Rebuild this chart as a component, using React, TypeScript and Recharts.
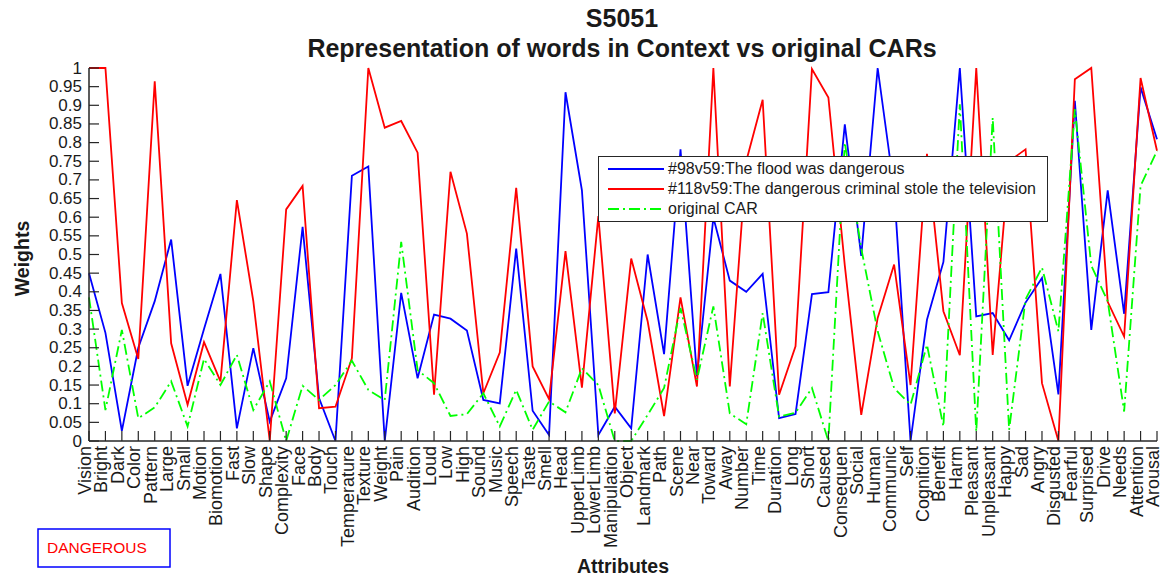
import React from 'react';
import { LineChart, Line, XAxis, YAxis, Legend } from 'recharts';

const attributes = [
  'Vision', 'Bright', 'Dark', 'Color', 'Pattern', 'Large', 'Small', 'Motion', 'Biomotion', 'Fast',
  'Slow', 'Shape', 'Complexity', 'Face', 'Body', 'Touch', 'Temperature', 'Texture', 'Weight', 'Pain',
  'Audition', 'Loud', 'Low', 'High', 'Sound', 'Music', 'Speech', 'Taste', 'Smell', 'Head',
  'UpperLimb', 'LowerLimb', 'Manipulation', 'Object', 'Landmark', 'Path', 'Scene', 'Near', 'Toward', 'Away',
  'Number', 'Time', 'Duration', 'Long', 'Short', 'Caused', 'Consequen', 'Social', 'Human', 'Communic',
  'Self', 'Cognition', 'Benefit', 'Harm', 'Pleasant', 'Unpleasant', 'Happy', 'Sad', 'Angry', 'Disgusted',
  'Fearful', 'Surprised', 'Drive', 'Needs', 'Attention', 'Arousal',
];

// #98v59: The flood was dangerous
const floodWeights = [
  0.45, 0.29, 0.027, 0.25, 0.375, 0.54, 0.148, 0.3, 0.448, 0.034,
  0.249, 0.052, 0.168, 0.574, 0.115, 0, 0.711, 0.736, 0, 0.397,
  0.168, 0.339, 0.328, 0.296, 0.11, 0.101, 0.516, 0.081, 0.016, 0.935,
  0.672, 0.016, 0.092, 0.034, 0.5, 0.233, 0.782, 0.173, 0.599, 0.43,
  0.4, 0.448, 0.061, 0.072, 0.394, 0.399, 0.849, 0.496, 1, 0.675,
  0, 0.325, 0.48, 1, 0.334, 0.343, 0.27, 0.371, 0.437, 0.125,
  0.912, 0.298, 0.672, 0.341, 0.948, 0.809,
];

// #118v59: The dangerous criminal stole the television
const criminalWeights = [
  1, 1, 0.37, 0.22, 0.964, 0.262, 0.097, 0.265, 0.16, 0.646,
  0.375, 0, 0.621, 0.684, 0.088, 0.092, 0.222, 1, 0.84, 0.858,
  0.773, 0.124, 0.722, 0.556, 0.128, 0.237, 0.679, 0.2, 0.112, 0.509,
  0.143, 0.603, 0.074, 0.489, 0.321, 0.067, 0.385, 0.146, 1, 0.146,
  0.75, 0.915, 0.124, 0.254, 0.997, 0.921, 0.47, 0.07, 0.33, 0.473,
  0.15, 0.77, 0.348, 0.23, 1, 0.231, 0.75, 0.782, 0.155, 0,
  0.97, 1, 0.373, 0.28, 0.973, 0.778,
];

// original CAR
const carWeights = [
  0.385, 0.083, 0.298, 0.061, 0.09, 0.16, 0.039, 0.22, 0.15, 0.231,
  0.083, 0.16, 0, 0.148, 0.11, 0.15, 0.215, 0.137, 0.11, 0.534,
  0.19, 0.155, 0.067, 0.072, 0.128, 0.039, 0.137, 0.03, 0.106, 0.077,
  0.195, 0.15, 0, 0, 0.07, 0.142, 0.357, 0.164, 0.361, 0.074,
  0.045, 0.343, 0.065, 0.076, 0.142, 0, 0.8, 0.516, 0.294, 0.142,
  0.097, 0.258, 0.039, 0.903, 0.025, 0.867, 0.03, 0.38, 0.465, 0.294,
  0.89, 0.47, 0.375, 0.079, 0.684, 0.778,
];

const weightTicks = [
  0, 0.05, 0.1, 0.15, 0.2, 0.25, 0.3, 0.35, 0.4, 0.45, 0.5,
  0.55, 0.6, 0.65, 0.7, 0.75, 0.8, 0.85, 0.9, 0.95, 1,
];

const seriesNames = [
  '#98v59:The flood was dangerous',
  '#118v59:The dangerous criminal stole the television',
  'original CAR',
];

const data = attributes.map((name, i) => ({
  name,
  flood: floodWeights[i],
  criminal: criminalWeights[i],
  car: carWeights[i],
}));

const FONT = '"Liberation Sans", Arial, Helvetica, sans-serif';
const AXIS = '#262626';
const INK = '#1a1a1a';
const TICK = 10;

// ticks point into the plot box on all four sides, like a boxed MATLAB axes
const BottomTick = ({ x, y, payload }: any) => (
  <g>
    <line x1={x} y1={y} x2={x} y2={y - TICK} stroke={AXIS} strokeWidth={1.2} />
    <text
      x={x - 4}
      y={y + 5}
      transform={`rotate(-90 ${x - 4} ${y + 5})`}
      textAnchor="end"
      dominantBaseline="central"
      fontFamily={FONT}
      fontSize={18}
      fill={INK}
    >
      {payload.value}
    </text>
  </g>
);

const TopTick = ({ x, y }: any) => (
  <line x1={x} y1={y} x2={x} y2={y + TICK} stroke={AXIS} strokeWidth={1.2} />
);

const LeftTick = ({ x, y, payload }: any) => (
  <g>
    <line x1={x} y1={y} x2={x + TICK} y2={y} stroke={AXIS} strokeWidth={1.2} />
    <text
      x={x - 7}
      y={y}
      textAnchor="end"
      dominantBaseline="central"
      fontFamily={FONT}
      fontSize={17}
      fill={INK}
    >
      {payload.value}
    </text>
  </g>
);

const RightTick = ({ x, y }: any) => (
  <line x1={x} y1={y} x2={x - TICK} y2={y} stroke={AXIS} strokeWidth={1.2} />
);

const LegendBox = ({ payload }: any) => {
  const entries = [...(payload || [])].sort(
    (a: any, b: any) => seriesNames.indexOf(a.value) - seriesNames.indexOf(b.value),
  );
  return (
    <div
      style={{
        border: `1.5px solid ${AXIS}`,
        background: '#fff',
        padding: '2px 8px',
        fontFamily: FONT,
        fontSize: 16,
        color: INK,
        boxSizing: 'border-box',
        height: 66,
      }}
    >
      {entries.map((entry: any) => (
        <div key={entry.value} style={{ display: 'flex', alignItems: 'center', height: 20 }}>
          <svg width={58} height={10} style={{ marginRight: 3 }}>
            <line
              x1={1}
              y1={5}
              x2={57}
              y2={5}
              stroke={entry.color}
              strokeWidth={1.8}
              strokeDasharray={entry.payload && entry.payload.strokeDasharray}
            />
          </svg>
          <span>{entry.value}</span>
        </div>
      ))}
    </div>
  );
};

export default function App() {
  return (
    <div style={{ position: 'absolute', left: 0, top: 0, width: 1162, height: 579, background: '#fff' }}>
      <LineChart width={1162} height={579} data={data} margin={{ top: 68, right: 5, left: 0, bottom: 6 }}>
        <XAxis
          xAxisId="bottom"
          dataKey="name"
          orientation="bottom"
          interval={0}
          height={132}
          tickSize={0}
          tickMargin={0}
          tickLine={false}
          tick={BottomTick}
          axisLine={{ stroke: AXIS, strokeWidth: 1.5 }}
          label={({ viewBox }: any) => (
            <text
              x={viewBox.x + viewBox.width / 2}
              y={viewBox.y + 132}
              textAnchor="middle"
              fontFamily={FONT}
              fontWeight="bold"
              fontSize={19.5}
              fill={INK}
            >
              Attributes
            </text>
          )}
        />
        <XAxis
          xAxisId="top"
          dataKey="name"
          orientation="top"
          interval={0}
          height={0}
          tickSize={0}
          tickMargin={0}
          tickLine={false}
          tick={TopTick}
          axisLine={{ stroke: AXIS, strokeWidth: 1.5 }}
        />
        <YAxis
          yAxisId="left"
          domain={[0, 1]}
          ticks={weightTicks}
          interval={0}
          width={89}
          tickSize={0}
          tickMargin={0}
          tickLine={false}
          tick={LeftTick}
          axisLine={{ stroke: AXIS, strokeWidth: 1.5 }}
          label={({ viewBox }: any) => {
            const cx = 22;
            const cy = viewBox.y + viewBox.height / 2 + 4;
            return (
              <text
                x={cx}
                y={cy}
                transform={`rotate(-90 ${cx} ${cy})`}
                textAnchor="middle"
                dominantBaseline="central"
                fontFamily={FONT}
                fontWeight="bold"
                fontSize={19.5}
                fill={INK}
              >
                Weights
              </text>
            );
          }}
        />
        <YAxis
          yAxisId="right"
          orientation="right"
          domain={[0, 1]}
          ticks={weightTicks}
          interval={0}
          width={0}
          tickSize={0}
          tickMargin={0}
          tickLine={false}
          tick={RightTick}
          axisLine={{ stroke: AXIS, strokeWidth: 1.5 }}
        />
        <Line
          xAxisId="bottom"
          yAxisId="left"
          dataKey="flood"
          name={seriesNames[0]}
          stroke="#0000ff"
          strokeWidth={1.8}
          dot={false}
          isAnimationActive={false}
        />
        <Line
          xAxisId="bottom"
          yAxisId="left"
          dataKey="criminal"
          name={seriesNames[1]}
          stroke="#ff0000"
          strokeWidth={1.8}
          dot={false}
          isAnimationActive={false}
        />
        <Line
          xAxisId="bottom"
          yAxisId="left"
          dataKey="car"
          name={seriesNames[2]}
          stroke="#00ff00"
          strokeWidth={1.8}
          strokeDasharray="11 4 2 4"
          dot={false}
          isAnimationActive={false}
        />
        <Legend
          layout="vertical"
          align="center"
          verticalAlign="middle"
          wrapperStyle={{ left: 598, top: 156, width: 450, height: 66 }}
          content={LegendBox}
        />
        <text x={622} y={27} textAnchor="middle" fontFamily={FONT} fontWeight="bold" fontSize={25} fill={INK}>
          S5051
        </text>
        <text x={622} y={57} textAnchor="middle" fontFamily={FONT} fontWeight="bold" fontSize={25} fill={INK}>
          Representation of words in Context vs original CARs
        </text>
        <rect x={38} y={529} width={132} height={38} fill="none" stroke="#0000ff" strokeWidth={1.5} />
        <text x={47} y={553} fontFamily={FONT} fontSize={15.5} fill="#ff0000">
          DANGEROUS
        </text>
      </LineChart>
    </div>
  );
}
